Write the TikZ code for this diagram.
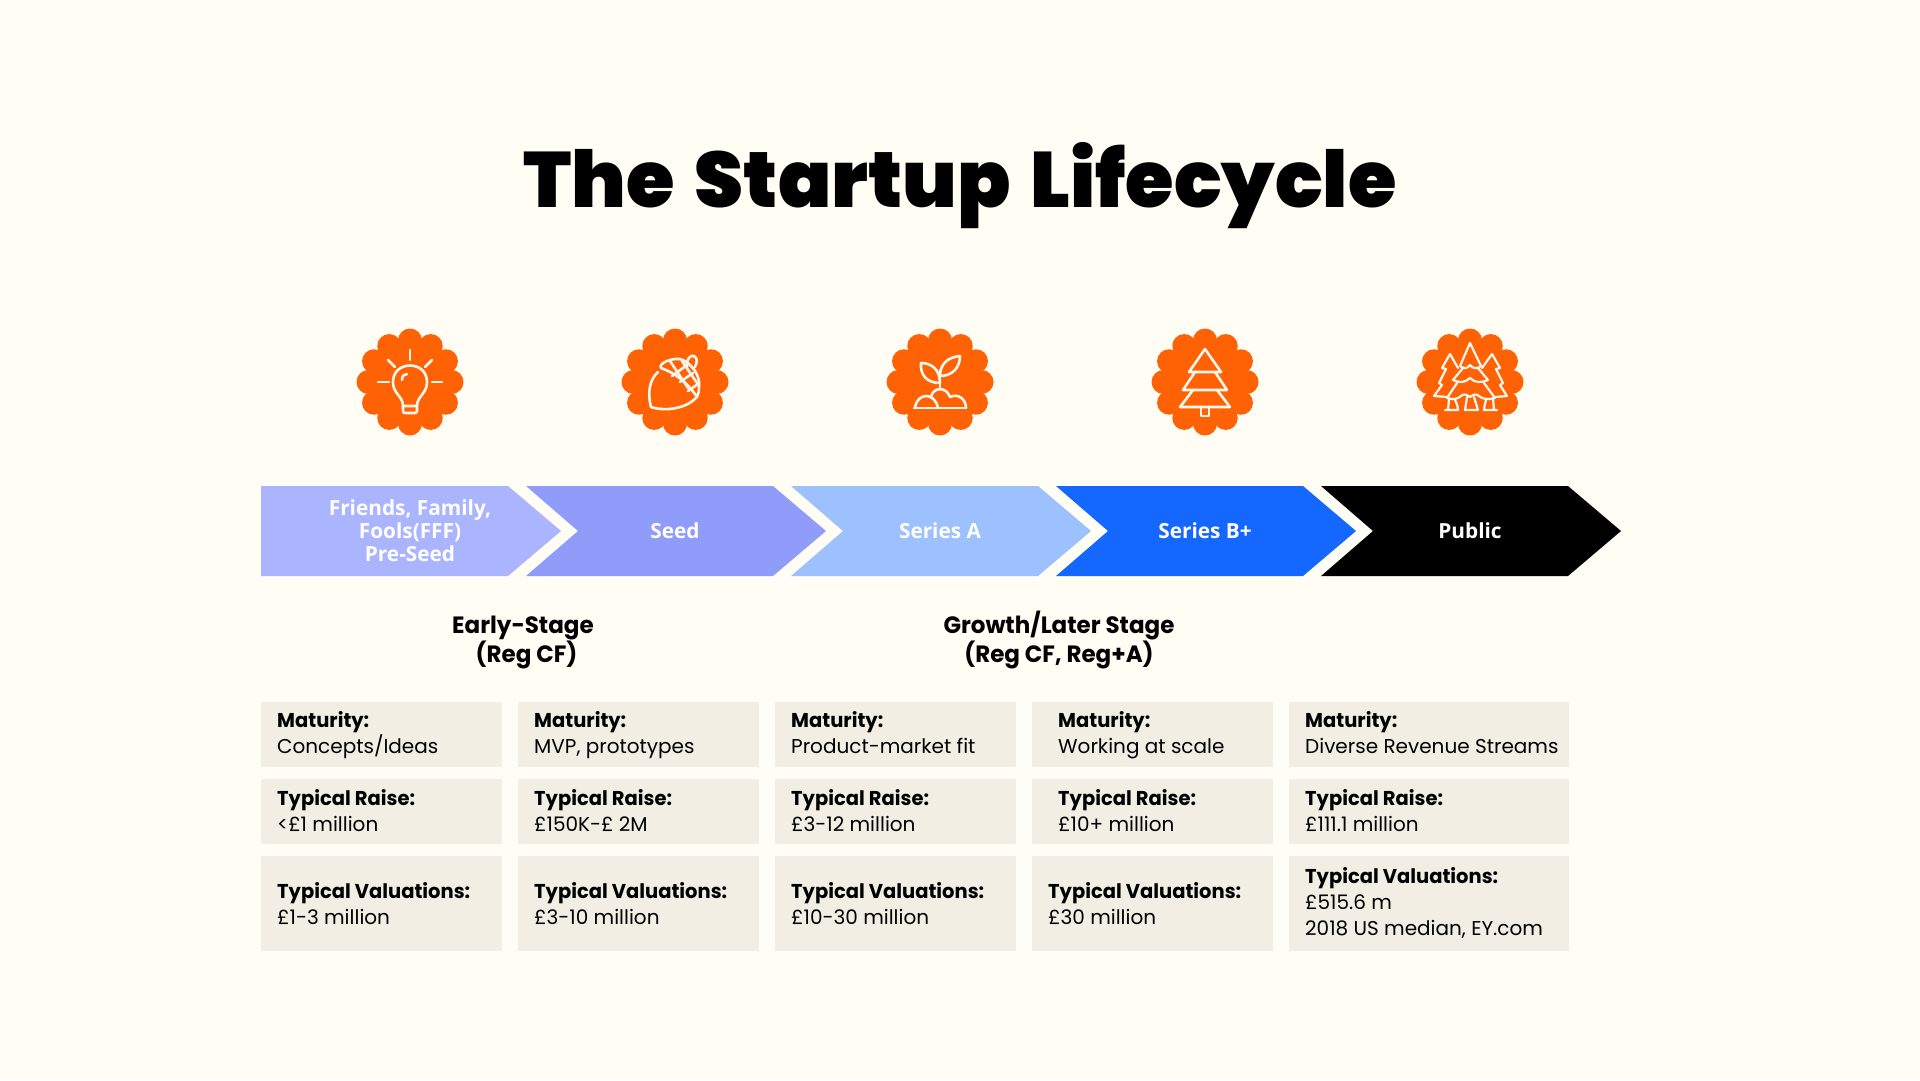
\documentclass[tikz,border=0pt]{standalone}
\usepackage{fontspec}
\setmainfont{Poppins}[BoldFeatures={FakeStretch=0.975}]
\newfontfamily\titlefont{Poppins Black}[WordSpace=1.5]
\newfontfamily\chevfont{Open Sans}
\usepackage{tikz}
\usetikzlibrary{positioning,calc}
\usepackage{xcolor}
\definecolor{bgcol}{RGB}{255,253,244}
\definecolor{badgecol}{RGB}{255,97,5}
\definecolor{iconcol}{RGB}{255,247,236}
\definecolor{cellcol}{RGB}{243,238,227}
\definecolor{fffcol}{RGB}{171,180,255}
\definecolor{seedcol}{RGB}{143,156,250}
\definecolor{acol}{RGB}{157,192,255}
\definecolor{bcol}{RGB}{20,103,255}
\tikzset{
  % stage arrow label
  chevtext/.style={font=\chevfont\fontsize{20.8pt}{23pt}\selectfont\bfseries, text=white, align=center, inner sep=0pt},
  % stage group heading
  grouptext/.style={font=\fontsize{23.6pt}{28pt}\selectfont\bfseries, text=black, anchor=base, inner sep=0pt},
  % table cell
  cellbox/.style 2 args={rectangle, fill=cellcol, anchor=north west, inner sep=0pt, minimum width=#1pt, minimum height=#2pt},
  % table text
  celltext/.style={font=\fontsize{20pt}{26pt}\selectfont, text=black, align=left, anchor=base west, inner sep=0pt},
  % icon strokes
  iconline/.style={draw=iconcol, line width=2.6pt, line cap=round, line join=round},
  % scalloped disc
  badgedisc/.style={circle, fill=badgecol, inner sep=0pt, minimum size=88pt},
}
\newcommand{\badge}[3]{%
  \node[badgedisc] (#1) at (#2,#3) {};
  \foreach \a in {0,30,...,330}
    \fill[badgecol] ($(#1)+(\a:41.5pt)$) circle[radius=12pt];
}

\begin{document}
\begin{tikzpicture}[x=1pt,y=-1pt]
  \fill[bgcol] (0,0) rectangle (1920,1080);
  \useasboundingbox (0,0) rectangle (1920,1080);

  % title
  \node[font=\titlefont\fontsize{78.5pt}{80pt}\selectfont, anchor=base, inner sep=0pt] (title) at (960,207) {The Startup Lifecycle};

  % badges
  \badge{idea}{410}{382}
  \badge{acorn}{675}{382}
  \badge{sprout}{940}{382}
  \badge{tree}{1205}{382}
  \badge{forest}{1470}{382}

  % bulb
  \begin{scope}[shift={(410,382)}, iconline]
    \draw (0,-32) -- (0,-22);
    \draw (-22,-22) -- (-15,-15);
    \draw (22,-22) -- (15,-15);
    \draw (-32,0) -- (-21,0);
    \draw (22,0) -- (32,0);
    \draw (-7,24) .. controls (-7,14) and (-17,12) .. (-17,0) .. controls (-17,-22) and (17,-22) .. (17,0) .. controls (17,12) and (7,14) .. (7,24) -- cycle;
    \draw[rounded corners=2pt] (-7,24) -- (-7,31) -- (7,31) -- (7,24);
    \draw (-8,-2) .. controls (-8,-6) and (-6,-8) .. (-3,-8);
  \end{scope}

  % acorn
  \begin{scope}[shift={(675,382)}, iconline]
    \draw (-17,-10) .. controls (-25,-3) and (-28,10) .. (-24,25) .. controls (-8,30) and (12,26) .. (22,15);
    \draw (-14,-14) .. controls (-17,-18) and (-5,-24) .. (5,-23) .. controls (16,-20) and (26,-6) .. (24,5) .. controls (24,10) and (23,13) .. (22,15) .. controls (12,0) and (0,-9) .. (-14,-14) -- cycle;
    \draw (-5,-21) -- (13,6);
    \draw (7,-21) -- (22,1);
    \draw (12,-17) -- (-3,-6);
    \draw (18,-9) -- (5,0);
    \draw (23,2) -- (13,9);
    \draw (12,-15) .. controls (11,-24) and (16,-27) .. (19,-26) .. controls (23,-24) and (22,-19) .. (20,-15);
  \end{scope}

  % sprout
  \begin{scope}[shift={(940,382)}, iconline]
    \draw (-26,26) -- (26,26);
    \draw (-25,26) .. controls (-23,10) and (-5,10) .. (-2,26);
    \draw (-9,15) .. controls (-7,5) and (6,4) .. (10,15) .. controls (18,11) and (26,17) .. (26,26);
    \draw (0,7) -- (0,-12);
    \draw (0,1) .. controls (-14,1) and (-20,-8) .. (-19,-19) .. controls (-8,-19) and (0,-12) .. (0,1);
    \draw (0,-6) .. controls (0,-18) and (8,-25) .. (20,-26) .. controls (20,-14) and (12,-6) .. (0,-6);
  \end{scope}

  % fir
  \begin{scope}[shift={(1205,382)}, iconline]
    \draw (0,-33) -- (-16,-10) -- (16,-10) -- cycle;
    \draw (-10,-10) -- (-22,8) -- (22,8) -- (10,-10);
    \draw (-12,8) -- (-25,25) -- (25,25) -- (12,8);
    \draw (-4,25) -- (-4,34) -- (4,34) -- (4,25);
  \end{scope}

  % woods
  \begin{scope}[shift={(1470,382)}, iconline, line width=2.2pt]
    \draw (-10,-16) -- (0,-39) -- (11,-16);
    \draw (-10,-16) .. controls (-6,-13) and (-3,-13) .. (0,-17) .. controls (3,-13) and (7,-13) .. (11,-16);
    \draw (-7,-14) -- (-17,-2) .. controls (-11,1) and (-5,1) .. (0,-4) .. controls (5,1) and (11,1) .. (18,-2) -- (8,-14);
    \draw (-13,1) -- (-23,16) .. controls (-17,18) and (-12,17) .. (-9,14);
    \draw (9,14) .. controls (12,17) and (18,18) .. (25,16) -- (14,1);
    \draw (-9,14) .. controls (-6,11) and (-3,13) .. (0,15) .. controls (3,13) and (6,11) .. (9,14);
    \draw (-21,17) -- (-22,28) -- (-25,28) -- (-12,28) .. controls (-12,24) and (-14,20) .. (-15,18);
    \draw (-3,15) -- (-5,28) -- (8,28) -- (4,15);
    \draw (16,18) .. controls (15,22) and (14,25) .. (14,28) -- (27,28) -- (24,28) -- (23,17);
    \draw (-12,-14) -- (-20,-28) -- (-28,-14) -- (-24,-13) -- (-31,1) -- (-28,3) -- (-36,14) -- (-23,15);
    \draw (12,-14) -- (22,-28) -- (30,-14) -- (26,-13) -- (33,1) -- (30,3) -- (37,14) -- (25,15);
  \end{scope}

  % stage arrows
  \fill[fffcol] (261,486) -- (508,486) -- (561,531) -- (508,576) -- (261,576) -- cycle;
  \fill[seedcol] (526,486) -- (773,486) -- (826,531) -- (773,576) -- (526,576) -- (578,531) -- cycle;
  \fill[acol] (791,486) -- (1038,486) -- (1091,531) -- (1038,576) -- (791,576) -- (843,531) -- cycle;
  \fill[bcol] (1056,486) -- (1303,486) -- (1356,531) -- (1303,576) -- (1056,576) -- (1108,531) -- cycle;
  \fill[black] (1321,486) -- (1568,486) -- (1621,531) -- (1568,576) -- (1321,576) -- (1373,531) -- cycle;

  \node[chevtext] (fff) at (410,531) {Friends, Family,\\Fools(FFF)\\Pre-Seed};
  \node[chevtext] (seed) at (675,531) {Seed};
  \node[chevtext] (seriesa) at (940,531) {Series A};
  \node[chevtext] (seriesb) at (1205,531) {Series B+};
  \node[chevtext] (public) at (1470,531) {Public};

  % stage groups
  \node[grouptext] (early) at (523,633.5) {Early-Stage};
  \node[grouptext] (earlyreg) at (526.5,662) {(Reg CF)};
  \node[grouptext] (growth) at (1059,633.5) {Growth/Later Stage};
  \node[grouptext] (growthreg) at (1059,662) {(Reg CF, Reg+A)};

  % first row
  \node[cellbox={241}{65}] (m1) at (261,702) {};
  \node[cellbox={241}{65}] (m2) at (518,702) {};
  \node[cellbox={241}{65}] (m3) at (775,702) {};
  \node[cellbox={241}{65}] (m4) at (1032,702) {};
  \node[cellbox={280}{65}] (m5) at (1289,702) {};
  \node[celltext] (mt1) at (277,753) {\textbf{Maturity:}\\Concepts/Ideas};
  \node[celltext] (mt2) at (534,753) {\textbf{Maturity:}\\MVP, prototypes};
  \node[celltext] (mt3) at (791,753) {\textbf{Maturity:}\\Product-market fit};
  \node[celltext] (mt4) at (1058,753) {\textbf{Maturity:}\\Working at scale};
  \node[celltext] (mt5) at (1305,753) {\textbf{Maturity:}\\Diverse Revenue Streams};

  % second row
  \node[cellbox={241}{65}] (r1) at (261,779) {};
  \node[cellbox={241}{65}] (r2) at (518,779) {};
  \node[cellbox={241}{65}] (r3) at (775,779) {};
  \node[cellbox={241}{65}] (r4) at (1032,779) {};
  \node[cellbox={280}{65}] (r5) at (1289,779) {};
  \node[celltext] (rt1) at (277,831) {\textbf{Typical Raise:}\\<£1 million};
  \node[celltext] (rt2) at (534,831) {\textbf{Typical Raise:}\\£150K-£ 2M};
  \node[celltext] (rt3) at (791,831) {\textbf{Typical Raise:}\\£3-12 million};
  \node[celltext] (rt4) at (1058,831) {\textbf{Typical Raise:}\\£10+ million};
  \node[celltext] (rt5) at (1305,831) {\textbf{Typical Raise:}\\£111.1 million};

  % third row
  \node[cellbox={241}{95}] (v1) at (261,856) {};
  \node[cellbox={241}{95}] (v2) at (518,856) {};
  \node[cellbox={241}{95}] (v3) at (775,856) {};
  \node[cellbox={241}{95}] (v4) at (1032,856) {};
  \node[cellbox={280}{95}] (v5) at (1289,856) {};
  \node[celltext] (vt1) at (277,924) {\textbf{Typical Valuations:}\\£1-3 million};
  \node[celltext] (vt2) at (534,924) {\textbf{Typical Valuations:}\\£3-10 million};
  \node[celltext] (vt3) at (791,924) {\textbf{Typical Valuations:}\\£10-30 million};
  \node[celltext] (vt4) at (1048,924) {\textbf{Typical Valuations:}\\£30 million};
  \node[celltext] (vt5) at (1305,935) {\textbf{Typical Valuations:}\\£515.6 m\\2018 US median, EY.com};
\end{tikzpicture}
\end{document}
